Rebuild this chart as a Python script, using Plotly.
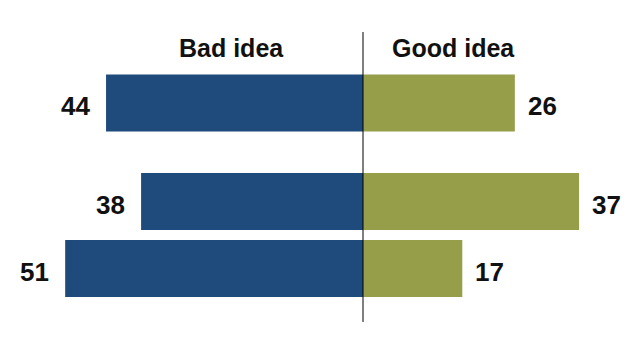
import plotly.graph_objects as go

# Data
categories = ["Group 1", "Group 2", "Group 3"]
bad_idea = [44, 38, 51]
good_idea = [26, 37, 17]
series_names = ["Bad idea", "Good idea"]
# which panel each row belongs to (first row is set apart)
panel = ["y", "y2", "y2"]

BLUE = "#1E4A7C"
OLIVE = "#969E4A"
FONT = "Liberation Sans, Arial, sans-serif"

fig = go.Figure()
for yref in ["y", "y2"]:
    cats = [c for c, p in zip(categories, panel) if p == yref]
    bads = [-b for b, p in zip(bad_idea, panel) if p == yref]
    goods = [g for g, p in zip(good_idea, panel) if p == yref]
    fig.add_trace(go.Bar(y=cats, x=bads, orientation="h", marker_color=BLUE,
                         marker_line_width=0, name=series_names[0], yaxis=yref, xaxis="x",
                         showlegend=False, hoverinfo="skip"))
    fig.add_trace(go.Bar(y=cats, x=goods, orientation="h", marker_color=OLIVE,
                         marker_line_width=0, name=series_names[1], yaxis=yref, xaxis="x",
                         showlegend=False, hoverinfo="skip"))

annotations = []
for c, p, b, g in zip(categories, panel, bad_idea, good_idea):
    annotations.append(dict(x=-b, y=c, xref="x", yref=p, text=str(b), showarrow=False,
                            xanchor="right", yanchor="middle", xshift=-14, yshift=-3,
                            font=dict(size=26, color="#111", family=FONT, weight="bold")))
    annotations.append(dict(x=g, y=c, xref="x", yref=p, text=str(g), showarrow=False,
                            xanchor="left", yanchor="middle", xshift=11, yshift=-3,
                            font=dict(size=26, color="#111", family=FONT, weight="bold")))

annotations.append(dict(x=0.361, y=0.866, xref="paper", yref="paper", text=series_names[0],
                        xanchor="center", yanchor="middle", showarrow=False,
                        font=dict(size=25, color="#111", family=FONT, weight="bold")))
annotations.append(dict(x=0.708, y=0.866, xref="paper", yref="paper", text=series_names[1],
                        xanchor="center", yanchor="middle", showarrow=False,
                        font=dict(size=25, color="#111", family=FONT, weight="bold")))

fig.update_layout(
    width=640, height=360,
    margin=dict(l=0, r=0, t=0, b=0),
    paper_bgcolor="white", plot_bgcolor="white",
    barmode="relative", bargap=0.15,
    xaxis=dict(range=[-62.16, 47.43], visible=False, fixedrange=True, anchor="y2"),
    yaxis=dict(domain=[0.6208, 0.8069], range=[0.5, -0.5], visible=False,
               categoryorder="array", categoryarray=categories),
    yaxis2=dict(domain=[0.1611, 0.5333], range=[1.5, -0.5], visible=False, anchor="x",
                categoryorder="array", categoryarray=categories[1:]),
    annotations=annotations,
    shapes=[dict(type="line", xref="x", yref="paper", x0=0, x1=0, y0=0.1056, y1=0.911,
                 line=dict(color="#000", width=1))],
)

fig.write_html("out.html", config={"displayModeBar": False},
               post_script="document.body.style.margin='0';")
